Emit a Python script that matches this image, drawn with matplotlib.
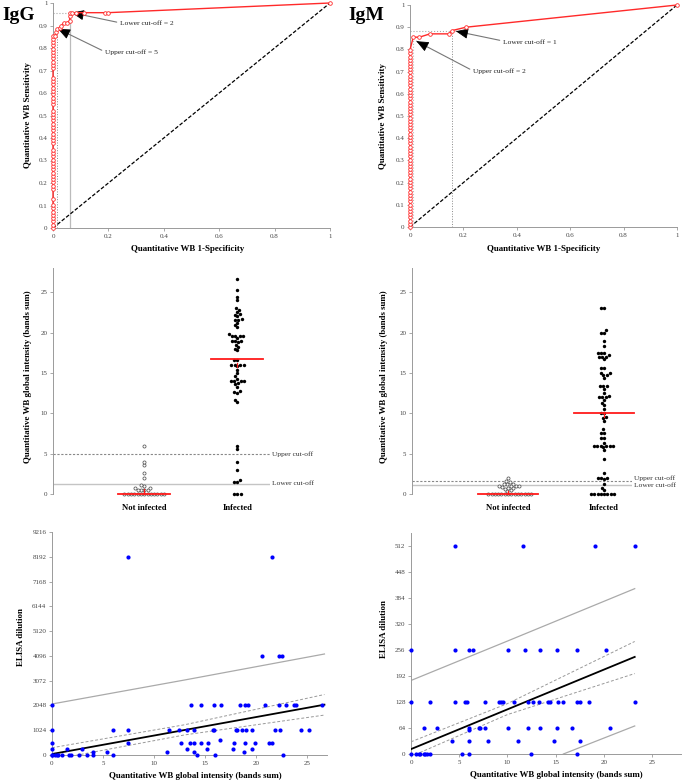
import numpy as np
import matplotlib
matplotlib.use("Agg")
import matplotlib.pyplot as plt

plt.rcParams['font.family'] = ['Liberation Serif', 'DejaVu Serif']

# ---------------- DATA ----------------
# ROC IgG
igg_roc_fpr = [0, 0, 0, 0, 0, 0, 0, 0, 0, 0, 0, 0, 0, 0, 0, 0, 0, 0, 0, 0,
               0, 0, 0, 0, 0, 0, 0, 0, 0, 0, 0, 0, 0, 0, 0, 0, 0, 0, 0, 0,
               0, 0, 0, 0, 0, 0, 0, 0, 0, 0, 0, 0, 0,
               0.008, 0.012, 0.016, 0.024, 0.030, 0.040, 0.050, 0.060, 0.060,
               0.062, 0.068, 0.083, 0.113, 0.188, 0.198, 1.0]
igg_roc_tpr = [0.000, 0.014, 0.029, 0.043, 0.058, 0.072, 0.087, 0.101, 0.130, 0.174,
               0.188, 0.203, 0.217, 0.232, 0.246, 0.261, 0.275, 0.290, 0.304, 0.319,
               0.333, 0.348, 0.377, 0.391, 0.406, 0.420, 0.435, 0.449, 0.464, 0.478,
               0.493, 0.507, 0.522, 0.551, 0.565, 0.580, 0.594, 0.609, 0.623, 0.638,
               0.652, 0.667, 0.710, 0.725, 0.739, 0.754, 0.768, 0.783, 0.797, 0.812,
               0.826, 0.841, 0.855,
               0.855, 0.870, 0.884, 0.890, 0.900, 0.913, 0.913, 0.920, 0.942,
               0.957, 0.957, 0.957, 0.957, 0.957, 0.957, 1.0]
# ROC IgM
igm_roc_fpr = [0, 0, 0, 0, 0, 0, 0, 0, 0, 0, 0, 0, 0, 0, 0, 0, 0, 0, 0, 0,
               0, 0, 0, 0, 0, 0, 0, 0, 0, 0, 0, 0, 0, 0, 0, 0, 0, 0, 0, 0,
               0, 0, 0, 0, 0, 0, 0, 0, 0, 0, 0, 0, 0, 0, 0, 0,
               0.012, 0.035, 0.075, 0.145, 0.158, 0.210, 1.0]
igm_roc_tpr = [0.000, 0.014, 0.029, 0.043, 0.058, 0.072, 0.087, 0.101, 0.116, 0.130,
               0.145, 0.159, 0.174, 0.188, 0.203, 0.217, 0.232, 0.246, 0.261, 0.275,
               0.290, 0.304, 0.319, 0.333, 0.348, 0.362, 0.377, 0.391, 0.406, 0.420,
               0.435, 0.449, 0.464, 0.478, 0.493, 0.507, 0.522, 0.536, 0.551, 0.565,
               0.580, 0.594, 0.609, 0.623, 0.638, 0.652, 0.667, 0.681, 0.696, 0.710,
               0.725, 0.739, 0.754, 0.768, 0.783, 0.797,
               0.855, 0.855, 0.870, 0.870, 0.885, 0.900, 1.0]

# Dot plots
categories = ["Not infected", "Infected"]
igg_not_infected = [0, 0, 0, 0, 0, 0, 0, 0, 0, 0, 0, 0, 0,
                    0.5, 0.5, 0.5, 0.5, 0.75, 0.75, 1.0, 1.1,
                    2.0, 2.6, 3.6, 4.0, 6.0]
igg_infected = [26.6, 25.3, 24.4, 24.0, 23.0, 22.8, 22.5, 22.3, 22.2, 22.0, 21.7,
                21.6, 21.5, 21.2, 20.9, 20.7, 19.8, 19.6, 19.6, 19.6, 19.6, 19.3,
                19.0, 19.0, 19.0, 18.8, 18.5, 18.2, 18.0, 17.8,
                16.6, 16.6, 16.0, 16.0, 16.0, 16.0, 15.8, 15.4, 15.0, 14.6, 14.3,
                14.0, 14.0, 14.0, 14.0, 13.8, 13.6, 13.3, 12.8, 12.6, 12.5, 11.7,
                11.4, 6.0, 5.6, 4.0, 3.0, 1.7, 1.5, 1.5, 0, 0, 0]
igg_medians = [0.0, 16.7]
igg_err_lo = [0.0, 15.7]
igg_err_hi = [0.6, 16.2]
igg_upper_cutoff = 5.0
igg_lower_cutoff = 1.25

igm_not_infected = [0, 0, 0, 0, 0, 0, 0, 0, 0, 0, 0, 0, 0, 0,
                    0.4, 0.5, 0.6, 0.7, 0.8, 0.9, 1.0, 1.0, 1.0, 1.0,
                    1.2, 1.3, 1.3, 1.5, 1.6, 2.0]
igm_infected = [23.0, 23.0, 20.3, 20.0, 20.0, 19.0, 18.3, 17.5, 17.5, 17.5, 17.2,
                17.0, 17.0, 17.0, 16.7, 15.6, 15.6, 15.0, 15.0, 14.8, 14.8, 14.4,
                13.4, 13.4, 13.4, 13.0, 12.5, 12.2, 12.0, 12.0, 12.0, 11.7, 11.3,
                11.0, 10.5, 10.0, 10.0, 9.6, 9.4, 9.0, 8.0, 7.6, 7.6, 7.0, 7.0,
                6.3, 6.0, 6.0, 6.0, 6.0, 6.0, 6.0, 5.8, 5.4, 4.3,
                2.6, 2.0, 2.0, 2.0, 1.8, 1.3, 0.8, 0.5,
                0, 0, 0, 0, 0, 0, 0, 0]
igm_medians = [0.0, 10.0]
igm_err_lo = [0.0, 9.5]
igm_err_hi = [0.4, 10.2]
igm_upper_cutoff = 1.57
igm_lower_cutoff = 1.08

# Scatter IgG: WB intensity vs ELISA dilution
igg_sc_x = [0, 0, 0.3, 0.5, 0.6, 1.0, 1.7, 1.86, 2.6, 3.4, 4.0, 6.0, 14.2, 16.0, 22.6,
            4.0, 5.4, 11.3, 13.9, 18.8,
            0, 1.5, 2.9, 13.2, 15.2, 17.7, 19.6,
            0, 7.4, 12.6, 13.5, 13.9, 14.6, 15.3, 16.5, 17.8, 18.9, 19.9, 21.3, 21.6,
            0, 6.0, 7.4, 11.5, 12.4, 13.2, 13.9, 15.8, 15.9, 18.0, 18.1, 18.6, 19.0,
            19.6, 21.9, 22.3, 24.4, 25.2,
            0, 13.6, 14.6, 15.9, 16.6, 18.4, 18.9, 19.2, 20.9, 22.2, 22.9, 23.7, 23.9, 26.5,
            20.6, 22.2, 22.55,
            7.43, 21.6]
igg_sc_y = [0, 0, 0, 0, 0, 0, 0, 0, 0, 0, 0, 0, 0, 0, 0,
            128, 128, 128, 128, 128,
            256, 256, 256, 256, 256, 256, 256,
            512, 512, 512, 512, 512, 512, 512, 640, 512, 512, 512, 512, 512,
            1024, 1024, 1024, 1024, 1024, 1024, 1024, 1024, 1024, 1024, 1024, 1024, 1024,
            1024, 1024, 1024, 1024, 1024,
            2048, 2048, 2048, 2048, 2048, 2048, 2048, 2048, 2048, 2048, 2048, 2048, 2048, 2048,
            4096, 4096, 4096,
            8192, 8192]
igg_fit_x = [0, 26.7]
igg_fit_y = [40, 2080]
igg_band_x = [0, 13, 26.7]
igg_ci_hi = [300, 1250, 2500]
igg_ci_lo = [-200, 830, 1650]
igg_pi_hi = [2108, 3100, 4174]

# Scatter IgM
igm_sc_x = [0, 0.5, 0.8, 0.9, 1.3, 1.5, 1.7, 2.0, 5.3, 6.0, 12.4, 17.2,
            4.3, 6.0, 8.0, 11.1, 14.8, 17.5,
            1.35, 2.7, 6.0, 6.0, 7.0, 7.2, 7.7, 10.1, 12.1, 13.4, 15.1, 16.7, 20.6,
            0, 2.0, 4.6, 5.6, 5.8, 7.7, 9.1, 9.3, 9.5, 10.7, 12.1, 12.7, 13.3, 14.2,
            14.4, 15.2, 15.8, 17.2, 17.5, 18.5, 23.2,
            0, 4.6, 6.0, 6.4, 10.1, 11.8, 13.4, 15.1, 17.2, 20.2,
            4.56, 11.57, 19.1, 23.2]
igm_sc_y = [0, 0, 0, 0, 0, 0, 0, 0, 0, 0, 0, 0,
            32, 32, 32, 32, 32, 32,
            64, 64, 64, 58, 64, 64, 64, 64, 64, 64, 64, 64, 64,
            128, 128, 128, 128, 128, 128, 128, 128, 128, 128, 128, 128, 128, 128,
            128, 128, 128, 128, 128, 128, 128,
            256, 256, 256, 256, 256, 256, 256, 256, 256, 256,
            512, 512, 512, 512]
igm_fit_x = [0, 23.2]
igm_fit_y = [12, 239]
igm_band_x = [0, 10, 23.2]
igm_ci_hi = [30, 124, 277]
igm_ci_lo = [-6, 97, 198]
igm_pi_hi = [181, 278, 407]
igm_pi_lo_x = [15.8, 23.2]
igm_pi_lo_y = [0, 69]

# ---------------- STYLE ----------------
SPINE = '#9a9a9a'
TICKLAB = '#444444'
TICKFS = 5.0
LABFS = 6.4

fig = plt.figure(figsize=(6.85, 7.8), dpi=100)


def style_axes(ax, bottom=True):
    for s in ['top', 'right']:
        ax.spines[s].set_visible(False)
    ax.spines['left'].set_color(SPINE)
    ax.spines['left'].set_linewidth(0.7)
    if bottom:
        ax.spines['bottom'].set_color(SPINE)
        ax.spines['bottom'].set_linewidth(0.7)
    else:
        ax.spines['bottom'].set_visible(False)
    ax.tick_params(direction='out', length=2.5, width=0.6, color=SPINE,
                   labelcolor=TICKLAB, labelsize=TICKFS, pad=1.5)


def arrow(ax, text_xy, tip_xy, text):
    ax.text(text_xy[0], text_xy[1], text, fontsize=5.4, color='#222222',
            ha='left', va='center')
    start = (text_xy[0] - 0.012, text_xy[1] + 0.008)
    ax.annotate('', xy=tip_xy, xytext=start,
                arrowprops=dict(arrowstyle='-', color='#777777', lw=0.8,
                                shrinkA=0, shrinkB=0))
    p0 = ax.transData.transform(start)
    p1 = ax.transData.transform(tip_xy)
    v = p0 - p1
    v = v / np.hypot(*v) * 7.0
    ax.annotate('', xy=tip_xy, xytext=(v[0], v[1]), textcoords='offset points',
                arrowprops=dict(arrowstyle='-|>,head_length=0.75,head_width=0.32',
                                color='black', lw=0.6, shrinkA=0, shrinkB=0))


def roc(ax, fpr, tpr):
    ax.set_xlim(0, 1)
    ax.set_ylim(0, 1)
    style_axes(ax)
    ax.plot([0, 1], [0, 1], color='black', lw=0.9, ls=(0, (3, 1.5)), zorder=2)
    ax.plot(fpr, tpr, color='#ff2a2a', lw=1.0, marker='o', markersize=2.6,
            markerfacecolor='white', markeredgecolor='#ff2a2a', markeredgewidth=0.6,
            clip_on=False, zorder=4)
    ax.set_xticks([0, 0.2, 0.4, 0.6, 0.8, 1.0])
    ax.set_xticklabels(['0', '0.2', '0.4', '0.6', '0.8', '1'])
    ax.set_yticks(np.round(np.arange(0, 1.01, 0.1), 1))
    ax.set_yticklabels(['0'] + ['%.1f' % v for v in np.arange(0.1, 0.95, 0.1)] + ['1'])
    ax.set_xlabel('Quantitative WB 1-Specificity', fontsize=LABFS, fontweight='bold')
    ax.set_ylabel('Quantitative WB Sensitivity', fontsize=LABFS, fontweight='bold')


# ---- ROC IgG ----
ax1 = fig.add_axes([53 / 685, 1 - 228 / 780, 277 / 685, 225 / 780])
roc(ax1, igg_roc_fpr, igg_roc_tpr)
ax1.plot([0.061, 0.061], [0, 0.957], color='#bbbbbb', lw=0.9, zorder=1)
ax1.plot([0, 0.061], [0.957, 0.957], color='#aaaaaa', lw=0.8, ls=':', zorder=1)
ax1.plot([0.0155, 0.0155], [0, 0.884], color='#888888', lw=0.7, ls=':', zorder=1)
arrow(ax1, (0.242, 0.907), (0.068, 0.957), 'Lower cut-off = 2')
arrow(ax1, (0.188, 0.782), (0.018, 0.885), 'Upper cut-off = 5')
ax1.xaxis.set_label_coords(0.487, -0.075)
ax1.yaxis.set_label_coords(-0.076, 0.5)
fig.text(2 / 685, 1 - 16 / 780, 'IgG', fontsize=14, fontweight='bold', va='center', ha='left')

# ---- ROC IgM ----
ax2 = fig.add_axes([410 / 685, 1 - 227 / 780, 267 / 685, 222 / 780])
roc(ax2, igm_roc_fpr, igm_roc_tpr)
ax2.plot([0.158, 0.158], [0, 0.885], color='#888888', lw=0.7, ls=':', zorder=1)
ax2.plot([0, 0.158], [0.885, 0.885], color='#aaaaaa', lw=0.8, ls=':', zorder=1)
ax2.plot([0.012, 0.012], [0, 0.855], color='#bbbbbb', lw=0.8, ls=':', zorder=1)
arrow(ax2, (0.348, 0.833), (0.172, 0.882), 'Lower cut-off = 1')
arrow(ax2, (0.236, 0.703), (0.024, 0.837), 'Upper cut-off = 2')
ax2.xaxis.set_label_coords(0.5, -0.08)
ax2.yaxis.set_label_coords(-0.086, 0.5)
fig.text(348 / 685, 1 - 16 / 780, 'IgM', fontsize=14, fontweight='bold', va='center', ha='left')


# ---- swarm helper ----
def swarm_positions(ax, center, values, d):
    vals = np.sort(np.asarray(values, float))
    placed = []
    xs = []
    cx = ax.transData.transform((center, 0))[0]
    inv = ax.transData.inverted()
    for v in vals:
        py = ax.transData.transform((center, v))[1]
        cands = [cx]
        for qx, qy in placed:
            dy = py - qy
            if abs(dy) < d:
                dx = np.sqrt(d * d - dy * dy)
                cands += [qx + dx, qx - dx]
        cands.sort(key=lambda c: (abs(c - cx), c))
        for c in cands:
            if all((c - qx) ** 2 + (py - qy) ** 2 >= d * d * 0.98 for qx, qy in placed):
                break
        placed.append((c, py))
        xs.append(inv.transform((c, py))[0])
    return np.array(xs), vals


def dotplot(ax, ni, inf, med, elo, ehi, up, lo, xlim, half, up_y, lo_y):
    ax.set_xlim(*xlim)
    ax.set_ylim(0, 28)
    style_axes(ax, bottom=False)
    ax.set_yticks([0, 5, 10, 15, 20, 25])
    ax.set_xticks([1, 2])
    ax.set_xticklabels(categories, fontsize=6.2, fontweight='bold', color='black')
    ax.tick_params(axis='x', length=0, pad=7)
    ax.axhline(up, color='#888888', lw=0.8, ls=(0, (2, 1.5)), zorder=1)
    ax.axhline(lo, color='#c4c4c4', lw=1.0, zorder=1)
    xr = xlim[1] + 0.02
    ax.text(xr, up_y, 'Upper cut-off', fontsize=5.4, color='#333333', ha='left',
            va='center', clip_on=False)
    ax.text(xr, lo_y, 'Lower cut-off', fontsize=5.4, color='#333333', ha='left',
            va='center', clip_on=False)
    x1, y1 = swarm_positions(ax, 1, ni, 3.3)
    ax.scatter(x1, y1, s=5, facecolors='white', edgecolors='#555555', linewidths=0.55,
               zorder=3, clip_on=False)
    x2, y2 = swarm_positions(ax, 2, inf, 3.3)
    ax.scatter(x2, y2, s=6, color='black', linewidths=0, zorder=3, clip_on=False)
    for i, c in enumerate([1, 2]):
        ax.plot([c - half, c + half], [med[i], med[i]], color='#ff1a1a', lw=1.3, zorder=5,
                clip_on=False)
        ax.plot([c, c], [elo[i], ehi[i]], color='#ff1a1a', lw=0.9, zorder=5, clip_on=False)
    ax.set_ylabel('Quantitative WB global intensity (bands sum)', fontsize=LABFS,
                  fontweight='bold')


ax3 = fig.add_axes([53 / 685, 1 - 494 / 780, 217 / 685, 226 / 780])
dotplot(ax3, igg_not_infected, igg_infected, igg_medians, igg_err_lo, igg_err_hi,
        igg_upper_cutoff, igg_lower_cutoff, (0.02, 2.35), 0.28, 4.95, 1.24)
ax3.yaxis.set_label_coords(-0.097, 0.52)

ax4 = fig.add_axes([412 / 685, 1 - 494 / 780, 220 / 685, 226 / 780])
dotplot(ax4, igm_not_infected, igm_infected, igm_medians, igm_err_lo, igm_err_hi,
        igm_upper_cutoff, igm_lower_cutoff, (0.0, 2.29), 0.31, 1.95, 1.05)
ax4.yaxis.set_label_coords(-0.109, 0.52)


# ---- Scatter plots ----
def scatter_panel(ax, xs, ys, xlim, ylim, yticks):
    ax.set_xlim(*xlim)
    ax.set_ylim(*ylim)
    style_axes(ax)
    ax.set_yticks(yticks)
    ax.set_xticks([0, 5, 10, 15, 20, 25])
    ax.scatter(xs, ys, s=9, color='#0000ff', linewidths=0, zorder=4, clip_on=False)
    ax.set_xlabel('Quantitative WB global intensity (bands sum)', fontsize=LABFS,
                  fontweight='bold')
    ax.set_ylabel('ELISA dilution', fontsize=LABFS, fontweight='bold')


ax5 = fig.add_axes([52 / 685, 1 - 755 / 780, 275.5 / 685, 223 / 780])
scatter_panel(ax5, igg_sc_x, igg_sc_y, (0, 27), (0, 9216), np.arange(0, 9217, 1024))
ax5.plot(igg_band_x, igg_pi_hi, color='#aaaaaa', lw=0.9, zorder=2)
ax5.plot(igg_band_x, igg_ci_hi, color='#999999', lw=0.7, ls=(0, (3, 2)), zorder=2)
ax5.plot(igg_band_x, igg_ci_lo, color='#999999', lw=0.7, ls=(0, (3, 2)), zorder=2)
ax5.plot(igg_fit_x, igg_fit_y, color='black', lw=1.3, zorder=3)
ax5.xaxis.set_label_coords(0.52, -0.075)
ax5.yaxis.set_label_coords(-0.098, 0.53)

ax6 = fig.add_axes([411 / 685, 1 - 754 / 780, 270 / 685, 221 / 780])
scatter_panel(ax6, igm_sc_x, igm_sc_y, (0, 28), (0, 544), np.arange(0, 513, 64))
ax6.plot(igm_band_x, igm_pi_hi, color='#aaaaaa', lw=0.9, zorder=2)
ax6.plot(igm_pi_lo_x, igm_pi_lo_y, color='#aaaaaa', lw=0.9, zorder=2)
ax6.plot(igm_band_x, igm_ci_hi, color='#999999', lw=0.7, ls=(0, (3, 2)), zorder=2)
ax6.plot(igm_band_x, igm_ci_lo, color='#999999', lw=0.7, ls=(0, (3, 2)), zorder=2)
ax6.plot(igm_fit_x, igm_fit_y, color='black', lw=1.3, zorder=3)
ax6.xaxis.set_label_coords(0.537, -0.078)
ax6.yaxis.set_label_coords(-0.085, 0.566)

fig.savefig('out.png', dpi=100, facecolor='white')
